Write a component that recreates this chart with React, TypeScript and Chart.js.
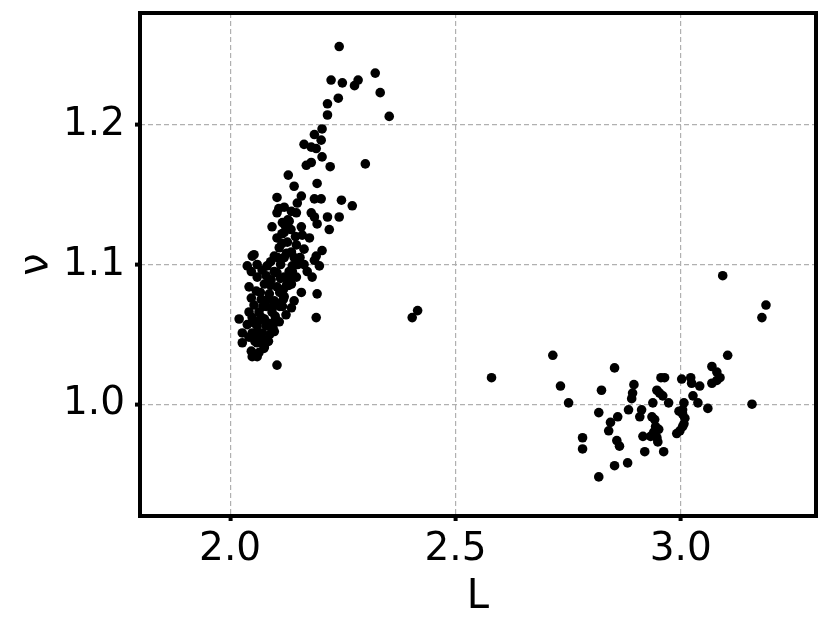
import React, { useEffect, useRef } from "react";
import { Chart, registerables } from "chart.js";

Chart.register(...registerables);

const L_values: number[] = [
  2.242, 2.224, 2.249, 2.284, 2.276, 2.322, 2.333, 2.240, 2.216, 2.216, 2.353, 2.204, 2.187, 2.202, 2.164, 2.180,
  2.191, 2.204, 2.180, 2.169, 2.222, 2.300, 2.129, 2.142, 2.193, 2.158, 2.104, 2.187, 2.202, 2.247, 2.271, 2.149,
  2.120, 2.104, 2.136, 2.147, 2.180, 2.187, 2.216, 2.242, 2.193, 2.220, 2.093, 2.116, 2.131, 2.158, 2.120, 2.104,
  2.160, 2.176, 2.127, 2.147, 2.164, 2.109, 2.204, 2.053, 2.049, 2.136, 2.191, 2.098, 2.120, 2.187, 2.198, 2.164,
  2.038, 2.082, 2.138, 2.047, 2.071, 2.104, 2.131, 2.171, 2.060, 2.091, 2.120, 2.147, 2.182, 2.076, 2.104, 2.136,
  2.042, 2.058, 2.158, 2.193, 2.087, 2.120, 2.047, 2.069, 2.098, 2.142, 2.053, 2.080, 2.116, 2.136, 2.042, 2.064,
  2.093, 2.124, 2.191, 2.020, 2.049, 2.076, 2.109, 2.038, 2.060, 2.091, 2.027, 2.049, 2.071, 2.098, 2.042, 2.082,
  2.027, 2.060, 2.076, 2.047, 2.064, 2.049, 2.060, 2.104,
  2.112, 2.125, 2.130, 2.110, 2.100, 2.085, 2.070, 2.150, 2.145, 2.128, 2.112, 2.095, 2.105, 2.118, 2.088, 2.075,
  2.055, 2.067, 2.060, 2.080, 2.090, 2.115, 2.135, 2.155, 2.108, 2.065,
  2.085, 2.095, 2.100, 2.110, 2.118, 2.125, 2.130, 2.138, 2.142, 2.080, 2.073, 2.090, 2.098, 2.105, 2.115, 2.122,
  2.062, 2.054, 2.070, 2.083,
  2.416, 2.404, 2.580,
  2.716, 2.733, 2.751, 2.782, 2.782, 2.818, 2.818, 2.824, 2.853, 2.840, 2.844, 2.860, 2.858, 2.864, 2.853, 2.882,
  2.896, 2.893, 2.891, 2.884, 2.909, 2.913, 2.916, 2.920, 2.938, 2.936, 2.942, 2.947, 2.956, 2.964, 2.953, 2.960,
  2.973, 2.944, 2.951, 2.940, 2.933, 2.947, 2.949, 2.962, 3.002, 2.991, 2.996, 3.093, 3.189, 3.180, 3.104, 3.069,
  3.080, 3.087, 3.080, 3.069, 3.022, 3.024, 3.042, 3.027, 3.038, 3.060, 3.158, 3.007, 3.004, 3.004, 3.009, 3.007,
  3.004, 2.998,
];

const nu_values: number[] = [
  1.256, 1.232, 1.230, 1.232, 1.228, 1.237, 1.223, 1.219, 1.215, 1.207, 1.206, 1.197, 1.193, 1.189, 1.186, 1.184,
  1.183, 1.177, 1.173, 1.171, 1.170, 1.172, 1.164, 1.156, 1.158, 1.149, 1.148, 1.147, 1.147, 1.146, 1.142, 1.144,
  1.141, 1.137, 1.138, 1.137, 1.137, 1.134, 1.134, 1.134, 1.129, 1.125, 1.127, 1.130, 1.131, 1.127, 1.123, 1.119,
  1.121, 1.119, 1.116, 1.114, 1.111, 1.112, 1.110, 1.107, 1.106, 1.109, 1.106, 1.106, 1.105, 1.103, 1.099, 1.100,
  1.099, 1.099, 1.099, 1.095, 1.096, 1.094, 1.095, 1.095, 1.091, 1.089, 1.091, 1.091, 1.091, 1.086, 1.084, 1.086,
  1.084, 1.081, 1.080, 1.079, 1.079, 1.077, 1.076, 1.075, 1.074, 1.074, 1.071, 1.070, 1.070, 1.069, 1.066, 1.066,
  1.066, 1.064, 1.062, 1.061, 1.062, 1.061, 1.059, 1.057, 1.056, 1.056, 1.051, 1.051, 1.051, 1.052, 1.048, 1.046,
  1.044, 1.044, 1.041, 1.038, 1.037, 1.034, 1.034, 1.028,
  1.100, 1.108, 1.085, 1.080, 1.063, 1.058, 1.045, 1.100, 1.120, 1.132, 1.090, 1.070, 1.072, 1.082, 1.050, 1.040,
  1.045, 1.080, 1.100, 1.092, 1.102, 1.115, 1.125, 1.105, 1.140, 1.060,
  1.045, 1.055, 1.060, 1.070, 1.075, 1.085, 1.090, 1.095, 1.105, 1.056, 1.070, 1.085, 1.095, 1.105, 1.122, 1.128,
  1.050, 1.058, 1.062, 1.075,
  1.067, 1.062, 1.019,
  1.035, 1.013, 1.001, 0.976, 0.968, 0.948, 0.994, 1.010, 1.026, 0.981, 0.987, 0.991, 0.974, 0.970, 0.956, 0.958,
  1.014, 1.008, 1.004, 0.996, 0.991, 0.996, 0.977, 0.966, 1.001, 0.991, 0.989, 1.010, 1.019, 1.019, 1.008, 1.006,
  1.001, 0.984, 0.982, 0.980, 0.977, 0.976, 0.973, 0.966, 1.018, 0.979, 0.995, 1.092, 1.071, 1.062, 1.035, 1.027,
  1.023, 1.019, 1.017, 1.015, 1.019, 1.015, 1.013, 1.006, 1.001, 0.997, 1.000, 1.001, 0.996, 0.993, 0.990, 0.986,
  0.984, 0.981,
];

const xTicks: number[] = [2.0, 2.5, 3.0];
const yTicks: number[] = [1.0, 1.1, 1.2];
const xTitle = "L";
const yTitle = "ν";

const FONT = "'DejaVu Sans'";

const framePlugin = {
  id: "frame",
  afterDraw(chart: any) {
    const { ctx, chartArea } = chart;
    ctx.save();
    ctx.strokeStyle = "#000";
    ctx.lineWidth = 4;
    ctx.strokeRect(chartArea.left, chartArea.top, chartArea.right - chartArea.left, chartArea.bottom - chartArea.top);
    ctx.restore();
  },
};

export default function App() {
  const ref = useRef<HTMLCanvasElement | null>(null);
  useEffect(() => {
    document.body.style.margin = "0";
    const points = L_values.map((x, i) => ({ x, y: nu_values[i] }));
    const chart = new Chart(ref.current as HTMLCanvasElement, {
      type: "scatter",
      data: {
        datasets: [
          {
            data: points,
            backgroundColor: "#000",
            borderWidth: 0,
            pointRadius: 4.8,
          },
        ],
      },
      options: {
        animation: false,
        responsive: false,
        layout: { padding: { top: 13, right: 14, left: 0, bottom: 0 } },
        plugins: { legend: { display: false }, tooltip: { enabled: false } },
        scales: {
          x: {
            type: "linear",
            min: 1.8,
            max: 3.3,
            afterBuildTicks: (s: any) => {
              s.ticks = xTicks.map((v) => ({ value: v }));
            },
            afterFit: (s: any) => {
              s.height = 116;
              s.paddingLeft = 0;
              s.paddingRight = 0;
            },
            border: { display: false, dash: [5, 3] },
            grid: {
              color: "#b0b0b0",
              lineWidth: 1.2,
              tickColor: "#000",
              tickWidth: 4,
              tickLength: 5,
              tickBorderDash: [],
            },
            ticks: {
              color: "#000",
              font: { family: FONT, size: 39 },
              padding: 5,
              maxRotation: 0,
              callback: (v: any) => Number(v).toFixed(1),
            },
            title: {
              display: true,
              text: xTitle,
              color: "#000",
              font: { family: FONT, size: 40 },
              padding: { top: 0, bottom: 10 },
            },
          },
          y: {
            type: "linear",
            min: 0.92,
            max: 1.28,
            afterBuildTicks: (s: any) => {
              s.ticks = yTicks.map((v) => ({ value: v }));
            },
            afterFit: (s: any) => {
              s.width = 140;
              s.paddingTop = 0;
              s.paddingBottom = 0;
            },
            border: { display: false, dash: [5, 3] },
            grid: {
              color: "#b0b0b0",
              lineWidth: 1.2,
              tickColor: "#000",
              tickWidth: 4,
              tickLength: 5,
              tickBorderDash: [],
            },
            ticks: {
              color: "#000",
              font: { family: FONT, size: 39 },
              padding: 10,
              callback: (v: any) => Number(v).toFixed(1),
            },
            title: {
              display: true,
              text: yTitle,
              color: "#000",
              font: { family: FONT, size: 40 },
              padding: { top: 13, bottom: 0 },
            },
          },
        },
      },
      plugins: [framePlugin],
    });
    return () => chart.destroy();
  }, []);
  return (
    <div style={{ width: 830, height: 632 }}>
      <canvas ref={ref} width={830} height={632} style={{ display: "block" }} />
    </div>
  );
}
